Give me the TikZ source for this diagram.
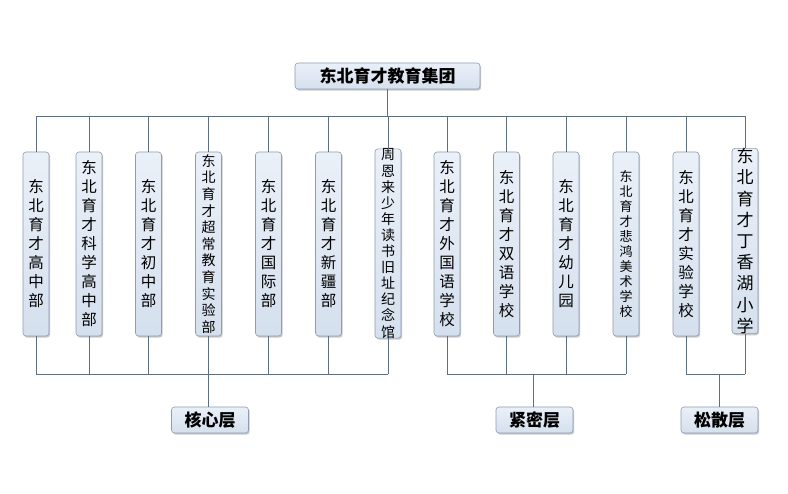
\documentclass[tikz,border=0pt]{standalone}
\usepackage{fontspec}
\newfontfamily\cjk{Noto Sans CJK SC}
\usetikzlibrary{shadows}
\definecolor{boxfill}{HTML}{D5E0EE}
\definecolor{boxtop}{HTML}{EAF0F8}
\definecolor{boxline}{HTML}{8E9CAE}
\definecolor{wirecol}{HTML}{5E6E7C}
\tikzset{
 unit/.style={draw=boxline, line width=0.6pt, rounded corners=3pt, top color=boxtop, bottom color=boxfill,
   drop shadow={shadow xshift=1.2pt, shadow yshift=-1.6pt, opacity=0.35, fill=black!60},
   inner sep=0pt, align=center},
 col/.style={unit, minimum width=26pt, minimum height=184pt},
 fA/.style={font=\cjk\fontsize{15.5}{19}\selectfont},
 fB/.style={font=\cjk\fontsize{14}{16.6}\selectfont},
 fC/.style={font=\cjk\fontsize{14}{16.1}\selectfont},
 fD/.style={font=\cjk\fontsize{13}{15}\selectfont},
 fE/.style={font=\cjk\fontsize{17}{21.2}\selectfont},
 lbl/.style={unit, minimum width=77pt, minimum height=26pt, font=\cjk\bfseries\fontsize{17}{20}\selectfont},
 wire/.style={draw=wirecol, line width=0.7pt},
}
\begin{document}
\begin{tikzpicture}[x=1pt,y=-1pt]
\useasboundingbox (0,0) rectangle (788,494);
\node[unit, minimum width=185pt, minimum height=26pt, font=\cjk\bfseries\fontsize{17}{20}\selectfont] (top) at (387.5,76) {东北育才教育集团};

\node[col,fA] (c1) at (36,244) {东\\北\\育\\才\\高\\中\\部};
\node[col,fA] (c2) at (89,244) {东\\北\\育\\才\\科\\学\\高\\中\\部};
\node[col,fA] (c3) at (148.5,244) {东\\北\\育\\才\\初\\中\\部};
\node[col,fB] (c4) at (208.5,244) {东\\北\\育\\才\\超\\常\\教\\育\\实\\验\\部};
\node[col,fA] (c5) at (268.5,244) {东\\北\\育\\才\\国\\际\\部};
\node[col,fA] (c6) at (328.5,244) {东\\北\\育\\才\\新\\疆\\部};
\node[col,fC, minimum height=185pt] (c7) at (388,243.5) {周\\恩\\来\\少\\年\\读\\书\\旧\\址\\纪\\念\\馆};
\node[col,fA] (c8) at (447,244) {东\\北\\育\\才\\外\\国\\语\\学\\校};
\node[col,fA] (c9) at (506.5,244) {东\\北\\育\\才\\双\\语\\学\\校};
\node[col,fA] (c10) at (566,244) {东\\北\\育\\才\\幼\\儿\\园};
\node[col,fD] (c11) at (626,244) {东\\北\\育\\才\\悲\\鸿\\美\\术\\学\\校};
\node[col,fA] (c12) at (686,244) {东\\北\\育\\才\\实\\验\\学\\校};
\node[col,fE] (c13) at (745,241) {东\\北\\育\\才\\丁\\香\\湖\\小\\学};

\node[lbl] (k1) at (210,420) {核心层};
\node[lbl] (k2) at (534.5,420) {紧密层};
\node[lbl] (k3) at (719.5,420) {松散层};

\coordinate (tb) at (0,116);
\coordinate (bb) at (0,374);

\draw[wire] (top.south) -- (top.south |- tb);
\draw[wire] (c1.north |- tb) -- (c13.north |- tb);
\foreach \i in {1,...,13} \draw[wire] (c\i.north) -- (c\i.north |- tb);

\draw[wire] (c1.south |- bb) -- (c7.south |- bb);
\draw[wire] (c8.south |- bb) -- (c11.south |- bb);
\draw[wire] (c12.south |- bb) -- (c13.south |- bb);
\foreach \i in {1,...,13} \draw[wire] (c\i.south) -- (c\i.south |- bb);

\draw[wire] (k1.north -| c4.south) -- (c4.south |- bb);
\draw[wire] ([xshift=-1.5pt]k2.north) -- ([xshift=-1.5pt]k2.north |- bb);
\draw[wire] (k3.north) -- (k3.north |- bb);
\end{tikzpicture}
\end{document}
